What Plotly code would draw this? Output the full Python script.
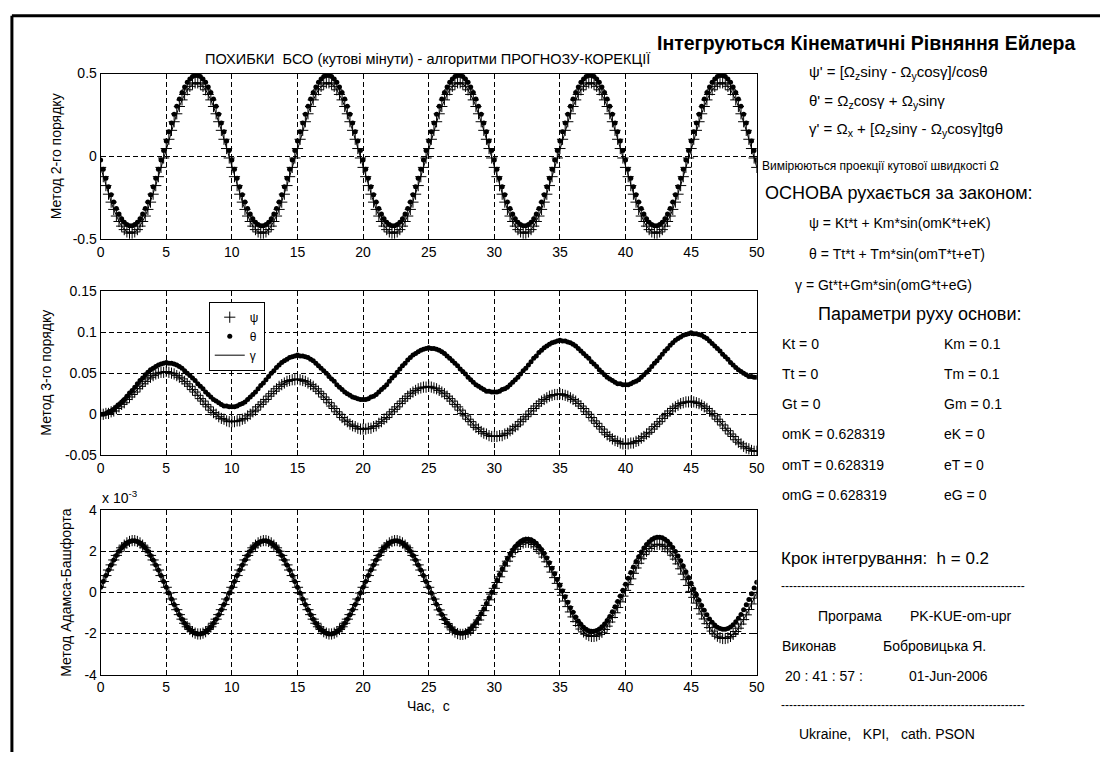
import numpy as np
import plotly.graph_objects as go

# Integration step and time grid, seconds
H_STEP = 0.2
t = np.round(np.arange(251) * H_STEP, 1)

# ---- Errors of the 2nd-order method (arc minutes) ----
theta_2 = [
    -0.022, -0.078, -0.132, -0.184, -0.232, -0.276, -0.316, -0.349, -0.377, -0.398, -0.412, -0.419, -0.419, -0.412, -0.398, -0.377, -0.349, -0.316, -0.276, -0.232, -0.184, -0.132, -0.078, -0.022, 0.035,
    0.092, 0.148, 0.202, 0.254, 0.302, 0.346, 0.386, 0.419, 0.447, 0.468, 0.482, 0.489, 0.489, 0.482, 0.468, 0.447, 0.419, 0.386, 0.346, 0.302, 0.254, 0.202, 0.148, 0.092, 0.035,
    -0.022, -0.078, -0.132, -0.184, -0.232, -0.276, -0.316, -0.349, -0.377, -0.398, -0.412, -0.419, -0.419, -0.412, -0.398, -0.377, -0.349, -0.316, -0.276, -0.232, -0.184, -0.132, -0.078, -0.022, 0.035,
    0.092, 0.148, 0.202, 0.254, 0.302, 0.346, 0.386, 0.419, 0.447, 0.468, 0.482, 0.489, 0.489, 0.482, 0.468, 0.447, 0.419, 0.386, 0.346, 0.302, 0.254, 0.202, 0.148, 0.092, 0.035,
    -0.022, -0.078, -0.132, -0.184, -0.232, -0.276, -0.316, -0.349, -0.377, -0.398, -0.412, -0.419, -0.419, -0.412, -0.398, -0.377, -0.349, -0.316, -0.276, -0.232, -0.184, -0.132, -0.078, -0.022, 0.035,
    0.092, 0.148, 0.202, 0.254, 0.302, 0.346, 0.386, 0.419, 0.447, 0.468, 0.482, 0.489, 0.489, 0.482, 0.468, 0.447, 0.419, 0.386, 0.346, 0.302, 0.254, 0.202, 0.148, 0.092, 0.035,
    -0.022, -0.078, -0.132, -0.184, -0.232, -0.276, -0.316, -0.349, -0.377, -0.398, -0.412, -0.419, -0.419, -0.412, -0.398, -0.377, -0.349, -0.316, -0.276, -0.232, -0.184, -0.132, -0.078, -0.022, 0.035,
    0.092, 0.148, 0.202, 0.254, 0.302, 0.346, 0.386, 0.419, 0.447, 0.468, 0.482, 0.489, 0.489, 0.482, 0.468, 0.447, 0.419, 0.386, 0.346, 0.302, 0.254, 0.202, 0.148, 0.092, 0.035,
    -0.022, -0.078, -0.132, -0.184, -0.232, -0.276, -0.316, -0.349, -0.377, -0.398, -0.412, -0.419, -0.419, -0.412, -0.398, -0.377, -0.349, -0.316, -0.276, -0.232, -0.184, -0.132, -0.078, -0.022, 0.035,
    0.092, 0.148, 0.202, 0.254, 0.302, 0.346, 0.386, 0.419, 0.447, 0.468, 0.482, 0.489, 0.489, 0.482, 0.468, 0.447, 0.419, 0.386, 0.346, 0.302, 0.254, 0.202, 0.148, 0.092, 0.035,
    -0.022,
]
psi_2 = [
    -0.067, -0.123, -0.177, -0.229, -0.277, -0.321, -0.361, -0.394, -0.422, -0.443, -0.457, -0.464, -0.464, -0.457, -0.443, -0.422, -0.394, -0.361, -0.321, -0.277, -0.229, -0.177, -0.123, -0.067, -0.010,
    0.047, 0.103, 0.157, 0.209, 0.257, 0.301, 0.341, 0.374, 0.402, 0.423, 0.437, 0.444, 0.444, 0.437, 0.423, 0.402, 0.374, 0.341, 0.301, 0.257, 0.209, 0.157, 0.103, 0.047, -0.010,
    -0.067, -0.123, -0.177, -0.229, -0.277, -0.321, -0.361, -0.394, -0.422, -0.443, -0.457, -0.464, -0.464, -0.457, -0.443, -0.422, -0.394, -0.361, -0.321, -0.277, -0.229, -0.177, -0.123, -0.067, -0.010,
    0.047, 0.103, 0.157, 0.209, 0.257, 0.301, 0.341, 0.374, 0.402, 0.423, 0.437, 0.444, 0.444, 0.437, 0.423, 0.402, 0.374, 0.341, 0.301, 0.257, 0.209, 0.157, 0.103, 0.047, -0.010,
    -0.067, -0.123, -0.177, -0.229, -0.277, -0.321, -0.361, -0.394, -0.422, -0.443, -0.457, -0.464, -0.464, -0.457, -0.443, -0.422, -0.394, -0.361, -0.321, -0.277, -0.229, -0.177, -0.123, -0.067, -0.010,
    0.047, 0.103, 0.157, 0.209, 0.257, 0.301, 0.341, 0.374, 0.402, 0.423, 0.437, 0.444, 0.444, 0.437, 0.423, 0.402, 0.374, 0.341, 0.301, 0.257, 0.209, 0.157, 0.103, 0.047, -0.010,
    -0.067, -0.123, -0.177, -0.229, -0.277, -0.321, -0.361, -0.394, -0.422, -0.443, -0.457, -0.464, -0.464, -0.457, -0.443, -0.422, -0.394, -0.361, -0.321, -0.277, -0.229, -0.177, -0.123, -0.067, -0.010,
    0.047, 0.103, 0.157, 0.209, 0.257, 0.301, 0.341, 0.374, 0.402, 0.423, 0.437, 0.444, 0.444, 0.437, 0.423, 0.402, 0.374, 0.341, 0.301, 0.257, 0.209, 0.157, 0.103, 0.047, -0.010,
    -0.067, -0.123, -0.177, -0.229, -0.277, -0.321, -0.361, -0.394, -0.422, -0.443, -0.457, -0.464, -0.464, -0.457, -0.443, -0.422, -0.394, -0.361, -0.321, -0.277, -0.229, -0.177, -0.123, -0.067, -0.010,
    0.047, 0.103, 0.157, 0.209, 0.257, 0.301, 0.341, 0.374, 0.402, 0.423, 0.437, 0.444, 0.444, 0.437, 0.423, 0.402, 0.374, 0.341, 0.301, 0.257, 0.209, 0.157, 0.103, 0.047, -0.010,
    -0.067,
]
gamma_2 = psi_2  # roll error coincides with the yaw error

# ---- Errors of the 3rd-order method ----
theta_3 = [
    0.000, 0.000, 0.001, 0.003, 0.004, 0.006, 0.009, 0.012, 0.015, 0.018, 0.022, 0.026, 0.029, 0.033, 0.037, 0.041, 0.044, 0.048, 0.051, 0.054, 0.056, 0.058, 0.060, 0.061, 0.062,
    0.063, 0.062, 0.062, 0.061, 0.060, 0.058, 0.056, 0.053, 0.050, 0.047, 0.044, 0.041, 0.037, 0.034, 0.031, 0.027, 0.024, 0.021, 0.018, 0.016, 0.014, 0.012, 0.010, 0.010, 0.009,
    0.009, 0.009, 0.010, 0.012, 0.013, 0.015, 0.018, 0.021, 0.024, 0.027, 0.031, 0.035, 0.038, 0.042, 0.046, 0.050, 0.053, 0.057, 0.060, 0.063, 0.065, 0.067, 0.069, 0.070, 0.071,
    0.072, 0.071, 0.071, 0.070, 0.069, 0.067, 0.065, 0.062, 0.059, 0.056, 0.053, 0.050, 0.046, 0.043, 0.040, 0.036, 0.033, 0.030, 0.027, 0.025, 0.023, 0.021, 0.020, 0.019, 0.018,
    0.018, 0.018, 0.019, 0.021, 0.022, 0.024, 0.027, 0.030, 0.033, 0.036, 0.040, 0.044, 0.047, 0.051, 0.055, 0.059, 0.062, 0.066, 0.069, 0.072, 0.074, 0.076, 0.078, 0.079, 0.080,
    0.081, 0.080, 0.080, 0.079, 0.078, 0.076, 0.074, 0.071, 0.068, 0.065, 0.062, 0.059, 0.055, 0.052, 0.049, 0.045, 0.042, 0.039, 0.036, 0.034, 0.032, 0.030, 0.028, 0.028, 0.027,
    0.027, 0.027, 0.028, 0.030, 0.031, 0.033, 0.036, 0.039, 0.042, 0.045, 0.049, 0.053, 0.056, 0.060, 0.064, 0.068, 0.071, 0.075, 0.078, 0.081, 0.083, 0.085, 0.087, 0.088, 0.089,
    0.090, 0.089, 0.089, 0.088, 0.087, 0.085, 0.083, 0.080, 0.077, 0.074, 0.071, 0.068, 0.064, 0.061, 0.058, 0.054, 0.051, 0.048, 0.045, 0.043, 0.041, 0.039, 0.037, 0.037, 0.036,
    0.036, 0.036, 0.037, 0.039, 0.040, 0.042, 0.045, 0.048, 0.051, 0.054, 0.058, 0.062, 0.065, 0.069, 0.073, 0.077, 0.080, 0.084, 0.087, 0.090, 0.092, 0.094, 0.096, 0.097, 0.098,
    0.099, 0.098, 0.098, 0.097, 0.096, 0.094, 0.092, 0.089, 0.086, 0.083, 0.080, 0.077, 0.073, 0.070, 0.067, 0.063, 0.060, 0.057, 0.054, 0.052, 0.050, 0.048, 0.046, 0.046, 0.045,
    0.045,
]
psi_3 = [
    0.000, 0.000, 0.001, 0.001, 0.003, 0.004, 0.007, 0.009, 0.012, 0.014, 0.018, 0.021, 0.024, 0.027, 0.031, 0.034, 0.037, 0.040, 0.043, 0.045, 0.047, 0.049, 0.050, 0.051, 0.051,
    0.052, 0.051, 0.050, 0.049, 0.047, 0.045, 0.043, 0.040, 0.037, 0.034, 0.030, 0.027, 0.023, 0.019, 0.016, 0.012, 0.009, 0.005, 0.002, 0.000, -0.003, -0.005, -0.006, -0.008, -0.009,
    -0.009, -0.009, -0.008, -0.008, -0.006, -0.005, -0.002, 0.000, 0.003, 0.005, 0.009, 0.012, 0.015, 0.018, 0.022, 0.025, 0.028, 0.031, 0.034, 0.036, 0.038, 0.040, 0.041, 0.042, 0.042,
    0.043, 0.042, 0.041, 0.040, 0.038, 0.036, 0.034, 0.031, 0.028, 0.025, 0.021, 0.018, 0.014, 0.010, 0.007, 0.003, 0.000, -0.004, -0.007, -0.009, -0.012, -0.014, -0.015, -0.017, -0.018,
    -0.018, -0.018, -0.017, -0.017, -0.015, -0.014, -0.011, -0.009, -0.006, -0.004, 0.000, 0.003, 0.006, 0.009, 0.013, 0.016, 0.019, 0.022, 0.025, 0.027, 0.029, 0.031, 0.032, 0.033, 0.033,
    0.034, 0.033, 0.032, 0.031, 0.029, 0.027, 0.025, 0.022, 0.019, 0.016, 0.012, 0.009, 0.005, 0.001, -0.002, -0.006, -0.009, -0.013, -0.016, -0.018, -0.021, -0.023, -0.024, -0.026, -0.027,
    -0.027, -0.027, -0.026, -0.026, -0.024, -0.023, -0.020, -0.018, -0.015, -0.013, -0.009, -0.006, -0.003, 0.000, 0.004, 0.007, 0.010, 0.013, 0.016, 0.018, 0.020, 0.022, 0.023, 0.024, 0.024,
    0.025, 0.024, 0.023, 0.022, 0.020, 0.018, 0.016, 0.013, 0.010, 0.007, 0.003, 0.000, -0.004, -0.008, -0.011, -0.015, -0.018, -0.022, -0.025, -0.027, -0.030, -0.032, -0.033, -0.035, -0.036,
    -0.036, -0.036, -0.035, -0.035, -0.033, -0.032, -0.029, -0.027, -0.024, -0.022, -0.018, -0.015, -0.012, -0.009, -0.005, -0.002, 0.001, 0.004, 0.007, 0.009, 0.011, 0.013, 0.014, 0.015, 0.015,
    0.016, 0.015, 0.014, 0.013, 0.011, 0.009, 0.007, 0.004, 0.001, -0.002, -0.006, -0.009, -0.013, -0.017, -0.020, -0.024, -0.027, -0.031, -0.034, -0.036, -0.039, -0.041, -0.042, -0.044, -0.045,
    -0.045,
]
gamma_3 = psi_3

# ---- Errors of the Adams-Bashforth method (x 10^-3) ----
theta_ab = [
    0.25, 0.53, 0.82, 1.09, 1.34, 1.58, 1.80, 2.00, 2.17, 2.30, 2.41, 2.48, 2.52, 2.52, 2.48, 2.41, 2.30, 2.17, 2.00, 1.80, 1.58, 1.34, 1.09, 0.82, 0.53,
    0.25, -0.03, -0.32, -0.59, -0.84, -1.08, -1.30, -1.50, -1.67, -1.80, -1.91, -1.98, -2.02, -2.02, -1.98, -1.91, -1.80, -1.67, -1.50, -1.30, -1.08, -0.84, -0.59, -0.32, -0.03,
    0.25, 0.53, 0.82, 1.09, 1.34, 1.58, 1.80, 2.00, 2.17, 2.30, 2.41, 2.48, 2.52, 2.52, 2.48, 2.41, 2.30, 2.17, 2.00, 1.80, 1.58, 1.34, 1.09, 0.82, 0.53,
    0.25, -0.03, -0.32, -0.59, -0.84, -1.08, -1.30, -1.50, -1.67, -1.80, -1.91, -1.98, -2.02, -2.02, -1.98, -1.91, -1.80, -1.67, -1.50, -1.30, -1.08, -0.84, -0.59, -0.32, -0.03,
    0.25, 0.53, 0.82, 1.09, 1.34, 1.58, 1.80, 2.00, 2.17, 2.30, 2.41, 2.48, 2.52, 2.52, 2.48, 2.41, 2.30, 2.17, 2.00, 1.80, 1.58, 1.34, 1.09, 0.82, 0.53,
    0.25, -0.03, -0.31, -0.58, -0.84, -1.07, -1.29, -1.49, -1.65, -1.79, -1.89, -1.96, -1.99, -1.99, -1.95, -1.88, -1.77, -1.63, -1.46, -1.27, -1.04, -0.80, -0.54, -0.27, 0.01,
    0.30, 0.59, 0.87, 1.14, 1.40, 1.64, 1.87, 2.06, 2.23, 2.37, 2.48, 2.55, 2.59, 2.59, 2.56, 2.49, 2.39, 2.25, 2.09, 1.89, 1.67, 1.44, 1.18, 0.91, 0.63,
    0.35, 0.07, -0.21, -0.48, -0.74, -0.97, -1.19, -1.39, -1.55, -1.69, -1.79, -1.86, -1.89, -1.89, -1.85, -1.78, -1.67, -1.53, -1.36, -1.17, -0.94, -0.70, -0.44, -0.17, 0.11,
    0.40, 0.69, 0.97, 1.24, 1.50, 1.74, 1.97, 2.16, 2.33, 2.47, 2.58, 2.65, 2.69, 2.69, 2.66, 2.59, 2.49, 2.35, 2.19, 1.99, 1.77, 1.54, 1.28, 1.01, 0.73,
    0.45, 0.17, -0.11, -0.38, -0.64, -0.87, -1.09, -1.29, -1.45, -1.59, -1.69, -1.76, -1.79, -1.79, -1.75, -1.68, -1.57, -1.43, -1.26, -1.07, -0.84, -0.60, -0.34, -0.07, 0.21,
    0.50,
]
psi_ab = [
    0.25, 0.53, 0.82, 1.09, 1.34, 1.58, 1.80, 2.00, 2.17, 2.30, 2.41, 2.48, 2.52, 2.52, 2.48, 2.41, 2.30, 2.17, 2.00, 1.80, 1.58, 1.34, 1.09, 0.82, 0.53,
    0.25, -0.03, -0.32, -0.59, -0.84, -1.08, -1.30, -1.50, -1.67, -1.80, -1.91, -1.98, -2.02, -2.02, -1.98, -1.91, -1.80, -1.67, -1.50, -1.30, -1.08, -0.84, -0.59, -0.32, -0.03,
    0.25, 0.53, 0.82, 1.09, 1.34, 1.58, 1.80, 2.00, 2.17, 2.30, 2.41, 2.48, 2.52, 2.52, 2.48, 2.41, 2.30, 2.17, 2.00, 1.80, 1.58, 1.34, 1.09, 0.82, 0.53,
    0.25, -0.03, -0.32, -0.59, -0.84, -1.08, -1.30, -1.50, -1.67, -1.80, -1.91, -1.98, -2.02, -2.02, -1.98, -1.91, -1.80, -1.67, -1.50, -1.30, -1.08, -0.84, -0.59, -0.32, -0.03,
    0.25, 0.53, 0.82, 1.09, 1.34, 1.58, 1.80, 2.00, 2.17, 2.30, 2.41, 2.48, 2.52, 2.52, 2.48, 2.41, 2.30, 2.17, 2.00, 1.80, 1.58, 1.34, 1.09, 0.82, 0.53,
    0.25, -0.04, -0.32, -0.59, -0.85, -1.09, -1.32, -1.51, -1.68, -1.82, -1.93, -2.00, -2.04, -2.04, -2.01, -1.94, -1.84, -1.70, -1.54, -1.34, -1.12, -0.89, -0.63, -0.36, -0.08,
    0.20, 0.48, 0.76, 1.03, 1.29, 1.52, 1.74, 1.94, 2.10, 2.24, 2.34, 2.41, 2.44, 2.44, 2.40, 2.33, 2.22, 2.08, 1.91, 1.72, 1.49, 1.25, 0.99, 0.72, 0.44,
    0.15, -0.14, -0.42, -0.69, -0.95, -1.19, -1.42, -1.61, -1.78, -1.92, -2.03, -2.10, -2.14, -2.14, -2.11, -2.04, -1.94, -1.80, -1.64, -1.44, -1.22, -0.99, -0.73, -0.46, -0.18,
    0.10, 0.38, 0.66, 0.93, 1.19, 1.42, 1.64, 1.84, 2.00, 2.14, 2.24, 2.31, 2.34, 2.34, 2.30, 2.23, 2.12, 1.98, 1.81, 1.62, 1.39, 1.15, 0.89, 0.62, 0.34,
    0.05, -0.24, -0.52, -0.79, -1.05, -1.29, -1.52, -1.71, -1.88, -2.02, -2.13, -2.20, -2.24, -2.24, -2.21, -2.14, -2.04, -1.90, -1.74, -1.54, -1.32, -1.09, -0.83, -0.56, -0.28,
    0.00,
]
gamma_ab = psi_ab

X_TICKS = [0, 5, 10, 15, 20, 25, 30, 35, 40, 45, 50]
Y2_TICKS, Y2_TEXT = [-0.5, 0, 0.5], ["-0.5", "0", "0.5"]
Y3_TICKS, Y3_TEXT = [-0.05, 0, 0.05, 0.1, 0.15], ["-0.05", "0", "0.05", "0.1", "0.15"]
YAB_TICKS, YAB_TEXT = [-4, -2, 0, 2, 4], ["-4", "-2", "0", "2", "4"]

W, HPX = 1108, 760
FONT = "Liberation Sans, Arial, sans-serif"

fig = go.Figure()

groups = [
    ("", psi_2, theta_2, gamma_2, False),
    ("2", psi_3, theta_3, gamma_3, True),
    ("3", psi_ab, theta_ab, gamma_ab, False),
]
for suffix, ps, th, ga, show in groups:
    xa, ya = "x" + suffix, "y" + suffix
    fig.add_trace(go.Scatter(x=t, y=ps, mode="markers", name="ψ", showlegend=show,
                             xaxis=xa, yaxis=ya,
                             marker=dict(symbol="cross-thin", size=8, color="black",
                                         line=dict(width=1, color="black"))))
    fig.add_trace(go.Scatter(x=t, y=th, mode="markers", name="θ", showlegend=show,
                             xaxis=xa, yaxis=ya,
                             marker=dict(symbol="circle", size=5, color="black")))
    fig.add_trace(go.Scatter(x=t, y=ga, mode="lines", name="γ", showlegend=show,
                             xaxis=xa, yaxis=ya,
                             line=dict(color="black", width=1)))

XDOM = [97.7 / W, 761 / W]


def ydom(top_px, bottom_px):
    return [1 - bottom_px / HPX, 1 - top_px / HPX]


def xaxis(anchor):
    return dict(domain=XDOM, anchor=anchor, range=[0, 50], tickvals=X_TICKS,
                ticktext=[str(v) for v in X_TICKS], showline=True, mirror="ticks",
                linecolor="black", linewidth=1, ticks="inside", ticklen=5,
                tickcolor="black", showgrid=True, gridcolor="black", gridwidth=1,
                griddash="5px,3px", zeroline=False,
                tickfont=dict(size=14, family=FONT, color="black"))


def yaxis(anchor, dom, rng, vals, texts):
    return dict(domain=dom, anchor=anchor, range=rng, tickvals=vals, ticktext=texts,
                showline=True, mirror="ticks", linecolor="black", linewidth=1,
                ticks="inside", ticklen=5, tickcolor="black", showgrid=True,
                gridcolor="black", gridwidth=1, griddash="5px,3px", zeroline=False,
                tickfont=dict(size=14, family=FONT, color="black"))


def txt(x, y, s, size, anchor="left", **kw):
    return dict(x=x / W, y=1 - y / HPX, xref="paper", yref="paper", text=s,
                showarrow=False, xanchor=anchor, yanchor="middle",
                font=dict(size=size, family=FONT, color="black"), **kw)


NB = "\u00a0"
dashes = "-" * 61

annotations = [
    txt(428, 52, "ПОХИБКИ" + NB * 2 + "БСО (кутові мінути) - алгоритми ПРОГНОЗУ-КОРЕКЦІЇ", 14.5, "center"),
    txt(872, 36, "<b>Інтегруються Кінематичні Рівняння Ейлера</b>", 19.5, "center"),
    txt(52, 151, "Метод 2-го порядку", 14, "center", textangle=-90),
    txt(43, 373, "Метод 3-го порядку", 14, "center", textangle=-90),
    txt(63, 597, "Метод Адамса-Башфорта", 14, "center", textangle=-90),
    txt(97, 500, "x 10<sup>-3</sup>", 14, "left"),
    txt(429, 713, "Час," + NB * 2 + "с", 14, "center"),
    # Euler kinematic equations
    txt(812, 66, "ψ' = [Ω<sub>z</sub>sinγ - Ω<sub>y</sub>cosγ]/cosθ", 15),
    txt(812, 95, "θ' = Ω<sub>z</sub>cosγ + Ω<sub>y</sub>sinγ", 15),
    txt(812, 124, "γ' = Ω<sub>x</sub> + [Ω<sub>z</sub>sinγ - Ω<sub>y</sub>cosγ]tgθ", 15),
    txt(764, 161, "Вимірюються проекції кутової швидкості Ω", 12),
    txt(767, 189, "ОСНОВА рухається за законом:", 18),
    txt(812, 220, "ψ = Kt*t + Km*sin(omK*t+eK)", 14),
    txt(812, 251, "θ = Tt*t + Tm*sin(omT*t+eT)", 14),
    txt(798, 283, "γ = Gt*t+Gm*sin(omG*t+eG)", 14),
    txt(821, 313, "Параметри руху основи:", 18),
    txt(784, 343, "Kt = 0", 14), txt(948, 343, "Km = 0.1", 14),
    txt(784, 374, "Tt = 0", 14), txt(948, 374, "Tm = 0.1", 14),
    txt(784, 405, "Gt = 0", 14), txt(948, 405, "Gm = 0.1", 14),
    txt(784, 435, "omK = 0.628319", 14), txt(948, 435, "eK = 0", 14),
    txt(784, 467, "omT = 0.628319", 14), txt(948, 467, "eT = 0", 14),
    txt(784, 497, "omG = 0.628319", 14), txt(948, 497, "eG = 0", 14),
    txt(783, 562, "Крок інтегрування:" + NB * 2 + "h = 0.2", 17),
    txt(783, 590, dashes, 12),
    txt(821, 621, "Програма", 14), txt(914, 621, "PK-KUE-om-upr", 14),
    txt(784, 652, "Виконав", 14), txt(887, 652, "Бобровицька Я.", 14),
    txt(788, 682, "20 : 41 : 57 :", 14), txt(913, 682, "01-Jun-2006", 14),
    txt(783, 712, dashes, 12),
    txt(802, 742, "Ukraine," + NB * 3 + "KPI," + NB * 3 + "cath. PSON", 14),
]

shapes = [
    dict(type="line", xref="paper", yref="paper", x0=8 / W, x1=8 / W, y0=0, y1=1 - 8 / HPX,
         line=dict(color="black", width=3)),
    dict(type="line", xref="paper", yref="paper", x0=8 / W, x1=1, y0=1 - 8 / HPX, y1=1 - 8 / HPX,
         line=dict(color="black", width=3)),
]

fig.update_layout(
    width=W, height=HPX, autosize=False,
    margin=dict(l=0, r=0, t=0, b=0, pad=0),
    paper_bgcolor="white", plot_bgcolor="white",
    font=dict(family=FONT, color="black", size=14),
    xaxis=xaxis("y"), yaxis=yaxis("x", ydom(67, 236), [-0.5, 0.5], Y2_TICKS, Y2_TEXT),
    xaxis2=xaxis("y2"), yaxis2=yaxis("x2", ydom(289, 457), [-0.05, 0.15], Y3_TICKS, Y3_TEXT),
    xaxis3=xaxis("y3"), yaxis3=yaxis("x3", ydom(513, 681), [-4, 4], YAB_TICKS, YAB_TEXT),
    legend=dict(x=207 / W, y=1 - 300 / HPX, xanchor="left", yanchor="top",
                bordercolor="black", borderwidth=1, bgcolor="white",
                font=dict(size=12, family=FONT, color="black"),
                itemwidth=30, tracegroupgap=0),
    annotations=annotations,
    shapes=shapes,
    showlegend=True,
)

fig.write_html("out.html")
